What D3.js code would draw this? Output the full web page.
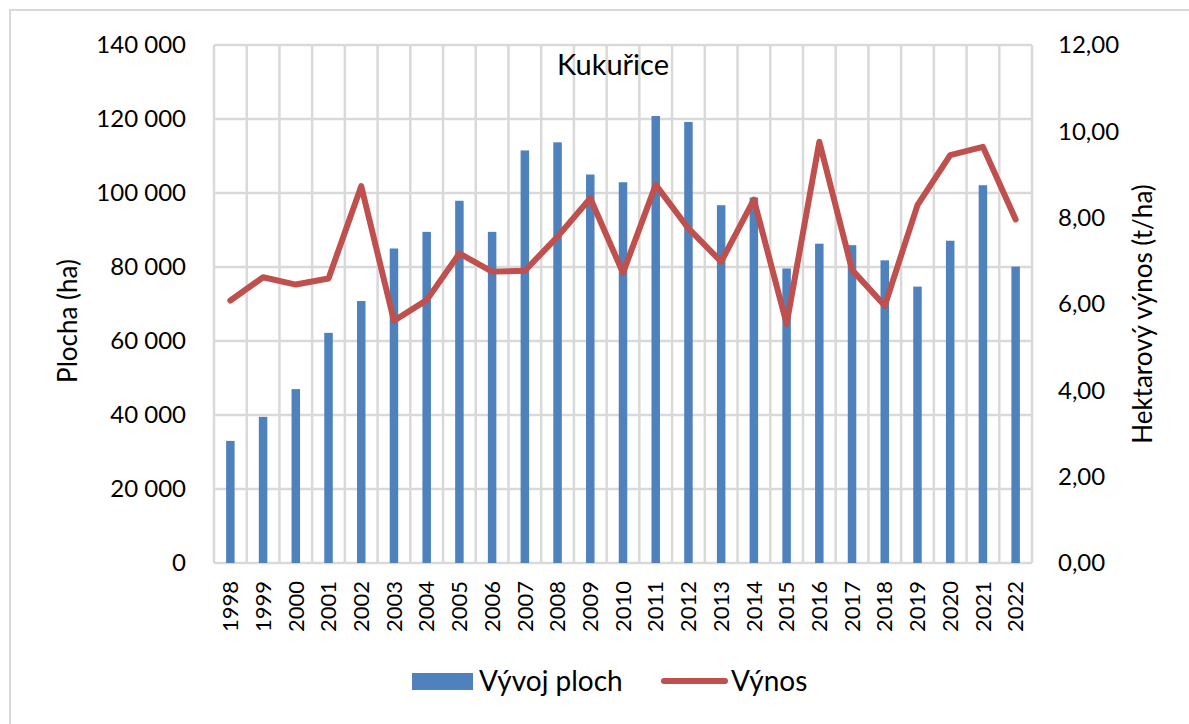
<!DOCTYPE html>
<html>
<head>
<meta charset="utf-8">
<script src="https://cdn.jsdelivr.net/npm/d3@7"></script>
<style>
body { margin: 0; background: #fff; }
svg text { font-family: Lato, "Noto Sans", sans-serif; fill: #000; }
</style>
</head>
<body>
<svg></svg>
<script>
var years = ['1998', '1999', '2000', '2001', '2002', '2003', '2004', '2005', '2006', '2007', '2008', '2009', '2010',
    '2011', '2012', '2013', '2014', '2015', '2016', '2017', '2018', '2019', '2020', '2021', '2022'];
var plocha = [33000, 39500, 47000, 62200, 70800, 85000, 89500, 97900, 89500, 111500, 113700, 105000, 102900,
    120800, 119200, 96700, 98800, 79600, 86300, 85900, 81800, 74700, 87100, 102100, 80100];
var vynos = [6.08, 6.62, 6.45, 6.59, 8.73, 5.61, 6.09, 7.17, 6.75, 6.77, 7.56, 8.45, 6.72,
    8.76, 7.75, 6.98, 8.42, 5.54, 9.76, 6.79, 5.96, 8.29, 9.45, 9.64, 7.96];
var leftTicks = [0, 20000, 40000, 60000, 80000, 100000, 120000, 140000];
var rightTicks = [0, 2, 4, 6, 8, 10, 12];

var width = 1189,
    height = 724,
    margin = {left: 214, top: 45, right: 157, bottom: 161},
    w = width - margin.left - margin.right,
    h = height - margin.top - margin.bottom,
    grid = '#d9d9d9',
    blue = '#4F81BD',
    red = '#C0504D';

var svg = d3.select('svg')
    .attr('width', width)
    .attr('height', height);

// outer chart frame (only top/left visible)
svg.append('rect')
    .attr('x', 10).attr('y', 10)
    .attr('width', 1300).attr('height', 900)
    .attr('fill', 'none')
    .attr('stroke', grid)
    .attr('stroke-width', 2);

var x = d3.scaleBand().domain(years).range([0, w]),
    y = d3.scaleLinear().domain([0, 140000]).range([h, 0]),
    y2 = d3.scaleLinear().domain([0, 12]).range([h, 0]);

var g = svg.append('g')
    .attr('transform', 'translate(' + margin.left + ',' + margin.top + ')');

// gridlines
g.append('g').selectAll('line')
    .data(leftTicks)
    .enter().append('line')
    .attr('x1', 0).attr('x2', w)
    .attr('y1', function (d) { return y(d); })
    .attr('y2', function (d) { return y(d); })
    .attr('stroke', grid)
    .attr('stroke-width', 2.5);

var bounds = years.map(function (d) { return x(d); }).concat([w]);
g.append('g').selectAll('line')
    .data(bounds)
    .enter().append('line')
    .attr('x1', function (d) { return d; })
    .attr('x2', function (d) { return d; })
    .attr('y1', 0).attr('y2', h)
    .attr('stroke', grid)
    .attr('stroke-width', 2.5);

// bars
var bw = 8.5;
g.append('g').selectAll('rect')
    .data(plocha)
    .enter().append('rect')
    .attr('x', function (d, i) { return x(years[i]) + x.bandwidth() / 2 - bw / 2; })
    .attr('y', function (d) { return y(d); })
    .attr('width', bw)
    .attr('height', function (d) { return h - y(d); })
    .attr('fill', blue);

// line
var line = d3.line()
    .x(function (d, i) { return x(years[i]) + x.bandwidth() / 2; })
    .y(function (d) { return y2(d); });

g.append('path')
    .datum(vynos)
    .attr('d', line)
    .attr('fill', 'none')
    .attr('stroke', red)
    .attr('stroke-width', 6)
    .attr('stroke-linejoin', 'round')
    .attr('stroke-linecap', 'round');

// axes
var yAxis = d3.axisLeft(y).tickValues(leftTicks).tickSize(0).tickPadding(28)
    .tickFormat(function (d) { return d3.format(',')(d).replace(/,/g, ' '); });
var yAxis2 = d3.axisRight(y2).tickValues(rightTicks).tickSize(0).tickPadding(26)
    .tickFormat(function (d) { return d3.format('.2f')(d).replace('.', ','); });
var xAxis = d3.axisBottom(x).tickSize(0).tickPadding(0);

var ga = g.append('g').call(yAxis);
ga.select('.domain').remove();
ga.selectAll('text').style('font-size', '24px');

var gb = g.append('g').attr('transform', 'translate(' + w + ',0)').call(yAxis2);
gb.select('.domain').remove();
gb.selectAll('text').style('font-size', '24px');

var gx = g.append('g').attr('transform', 'translate(0,' + h + ')').call(xAxis);
gx.select('.domain').remove();
gx.selectAll('text')
    .style('font-size', '22px')
    .attr('text-anchor', 'end')
    .attr('transform', 'rotate(-90)')
    .attr('x', -18)
    .attr('y', 0)
    .attr('dy', '0.35em');

// titles
svg.append('text')
    .attr('x', 613).attr('y', 75)
    .attr('text-anchor', 'middle')
    .style('font-size', '29px')
    .text('Kukuřice');

svg.append('text')
    .attr('transform', 'translate(77,321) rotate(-90)')
    .attr('text-anchor', 'middle')
    .style('font-size', '26px')
    .text('Plocha (ha)');

svg.append('text')
    .attr('transform', 'translate(1152,314) rotate(-90)')
    .attr('text-anchor', 'middle')
    .style('font-size', '26px')
    .text('Hektarový výnos (t/ha)');

// legend
var leg = svg.append('g');
leg.append('rect')
    .attr('x', 412).attr('y', 673)
    .attr('width', 61).attr('height', 17)
    .attr('fill', blue);
leg.append('text')
    .attr('x', 479).attr('y', 691)
    .style('font-size', '28px')
    .text('Vývoj ploch');
leg.append('line')
    .attr('x1', 664).attr('x2', 725)
    .attr('y1', 681).attr('y2', 681)
    .attr('stroke', red)
    .attr('stroke-width', 6)
    .attr('stroke-linecap', 'round');
leg.append('text')
    .attr('x', 731).attr('y', 691)
    .style('font-size', '28px')
    .text('Výnos');
</script>
</body>
</html>
